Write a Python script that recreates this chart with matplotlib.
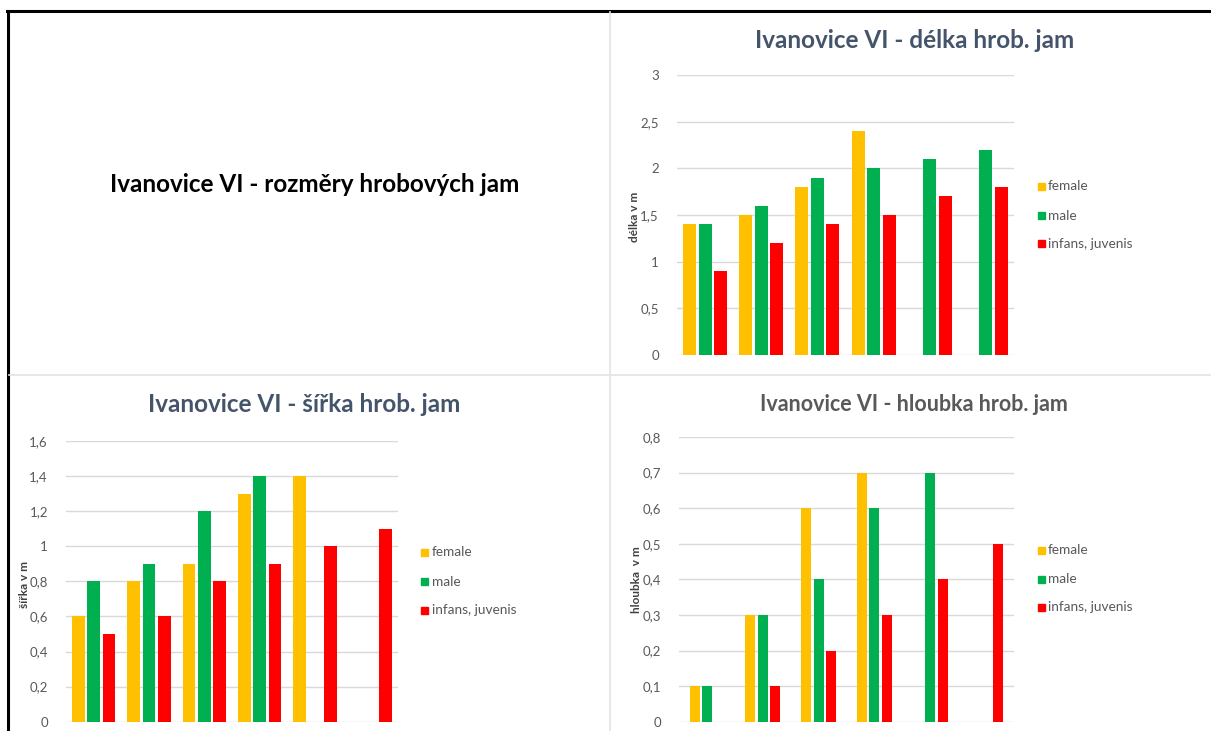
import numpy as np
import matplotlib
matplotlib.use("Agg")
import matplotlib.pyplot as plt
from matplotlib.lines import Line2D
from matplotlib.patches import Rectangle

plt.rcParams['font.family'] = ['Lato', 'DejaVu Sans']

W, H = 1211, 731

categories = ["1", "2", "3", "4", "5", "6"]
series = ["female", "male", "infans, juvenis"]
colors = ["#FFC000", "#00B050", "#FF0000"]
nan = np.nan

delka_female = [1.4, 1.5, 1.8, 2.4, nan, nan]
delka_male = [1.4, 1.6, 1.9, 2.0, 2.1, 2.2]
delka_infans = [0.9, 1.2, 1.4, 1.5, 1.7, 1.8]

sirka_female = [0.6, 0.8, 0.9, 1.3, 1.4, nan]
sirka_male = [0.8, 0.9, 1.2, 1.4, nan, nan]
sirka_infans = [0.5, 0.6, 0.8, 0.9, 1.0, 1.1]

hloubka_female = [0.1, 0.3, 0.6, 0.7, nan, nan]
hloubka_male = [0.1, 0.3, 0.4, 0.6, 0.7, nan]
hloubka_infans = [nan, 0.1, 0.2, 0.3, 0.4, 0.5]

delka_ticks = [0, 0.5, 1, 1.5, 2, 2.5, 3]
sirka_ticks = [0, 0.2, 0.4, 0.6, 0.8, 1.0, 1.2, 1.4, 1.6]
hloubka_ticks = [0, 0.1, 0.2, 0.3, 0.4, 0.5, 0.6, 0.7, 0.8]

fig = plt.figure(figsize=(W / 100, H / 100), dpi=100)


def fx(px):
    return px / W


def fy(py):
    return 1 - py / H


# frame and separators
fig.add_artist(Line2D([fx(7), fx(W)], [fy(11), fy(11)], color="black", lw=2.2))
fig.add_artist(Line2D([fx(8), fx(8)], [fy(11), fy(H)], color="black", lw=2.2))
fig.add_artist(Line2D([fx(609.5), fx(609.5)], [fy(12), fy(H)], color="#E3E3E3", lw=1.2))
fig.add_artist(Line2D([fx(9), fx(W)], [fy(375), fy(375)], color="#E3E3E3", lw=1.2))

fig.text(fx(315), fy(185), "Ivanovice VI - rozměry hrobových jam", ha="center",
         va="center", fontsize=17.5, fontweight="bold", color="black")


def fmt(v):
    s = ("%g" % v).replace(".", ",")
    return s


def panel(x0, x1, y0, y1, ymax, ticks, data, slot, bw, title, tx, ty, tsize, tcolor,
          ylabel, ylx, yly, leg_sq, leg_tx, leg_ys):
    ax = fig.add_axes([fx(x0), fy(y0), fx(x1) - fx(x0), fy(y1) - fy(y0)])
    x = np.arange(len(categories))
    for i, (vals, c) in enumerate(zip(data, colors)):
        ax.bar(x + (i - 1) * slot, vals, width=bw, color=c, zorder=3)
    ax.set_xlim(-0.5, len(categories) - 0.5)
    ax.set_ylim(0, ymax)
    ax.set_yticks(ticks)
    ax.set_yticklabels([fmt(t) for t in ticks])
    ax.set_xticks([])
    ax.grid(axis="y", color="#D9D9D9", lw=1.0, zorder=0)
    for s in ax.spines.values():
        s.set_visible(False)
    ax.tick_params(axis="y", length=0, pad=13, labelsize=9.5, labelcolor="#595959")
    ax.set_facecolor("none")
    fig.text(fx(tx), fy(ty), title, ha="center", va="center", fontsize=tsize,
             fontweight="bold", color=tcolor)
    fig.text(fx(ylx), fy(yly), ylabel, ha="center", va="center", rotation=90,
             fontsize=8.5, fontweight="bold", color="#404040")
    for lab, c, ly in zip(series, colors, leg_ys):
        fig.add_artist(Rectangle((fx(leg_sq), fy(ly + 3.5)), fx(7), 7 / H, color=c,
                                 transform=fig.transFigure))
        fig.text(fx(leg_tx), fy(ly), lab, ha="left", va="center", fontsize=9.8,
                 color="#595959")
    return ax


panel(677, 1014, 355, 75, 3, delka_ticks,
      [delka_female, delka_male, delka_infans], 0.276, 0.232,
      "Ivanovice VI - délka hrob. jam", 914.5, 40, 17.5, "#44546A",
      "délka v m", 635, 217, 1037.5, 1048, [186.5, 215.5, 243.5])

panel(66, 398, 721.7, 441, 1.6, sirka_ticks,
      [sirka_female, sirka_male, sirka_infans], 0.276, 0.226,
      "Ivanovice VI - šířka hrob. jam", 304, 405, 17.5, "#44546A",
      "šířka v m", 24, 585, 421.5, 432, [552.5, 581.5, 610])

panel(679, 1014, 721.7, 437, 0.8, hloubka_ticks,
      [hloubka_female, hloubka_male, hloubka_infans], 0.22, 0.18,
      "Ivanovice VI - hloubka hrob. jam", 913.5, 404, 15.5, "#595959",
      "hloubka  v m", 637, 580, 1037.5, 1048, [550, 579, 607])

fig.savefig("out.png", dpi=100, facecolor="white")
